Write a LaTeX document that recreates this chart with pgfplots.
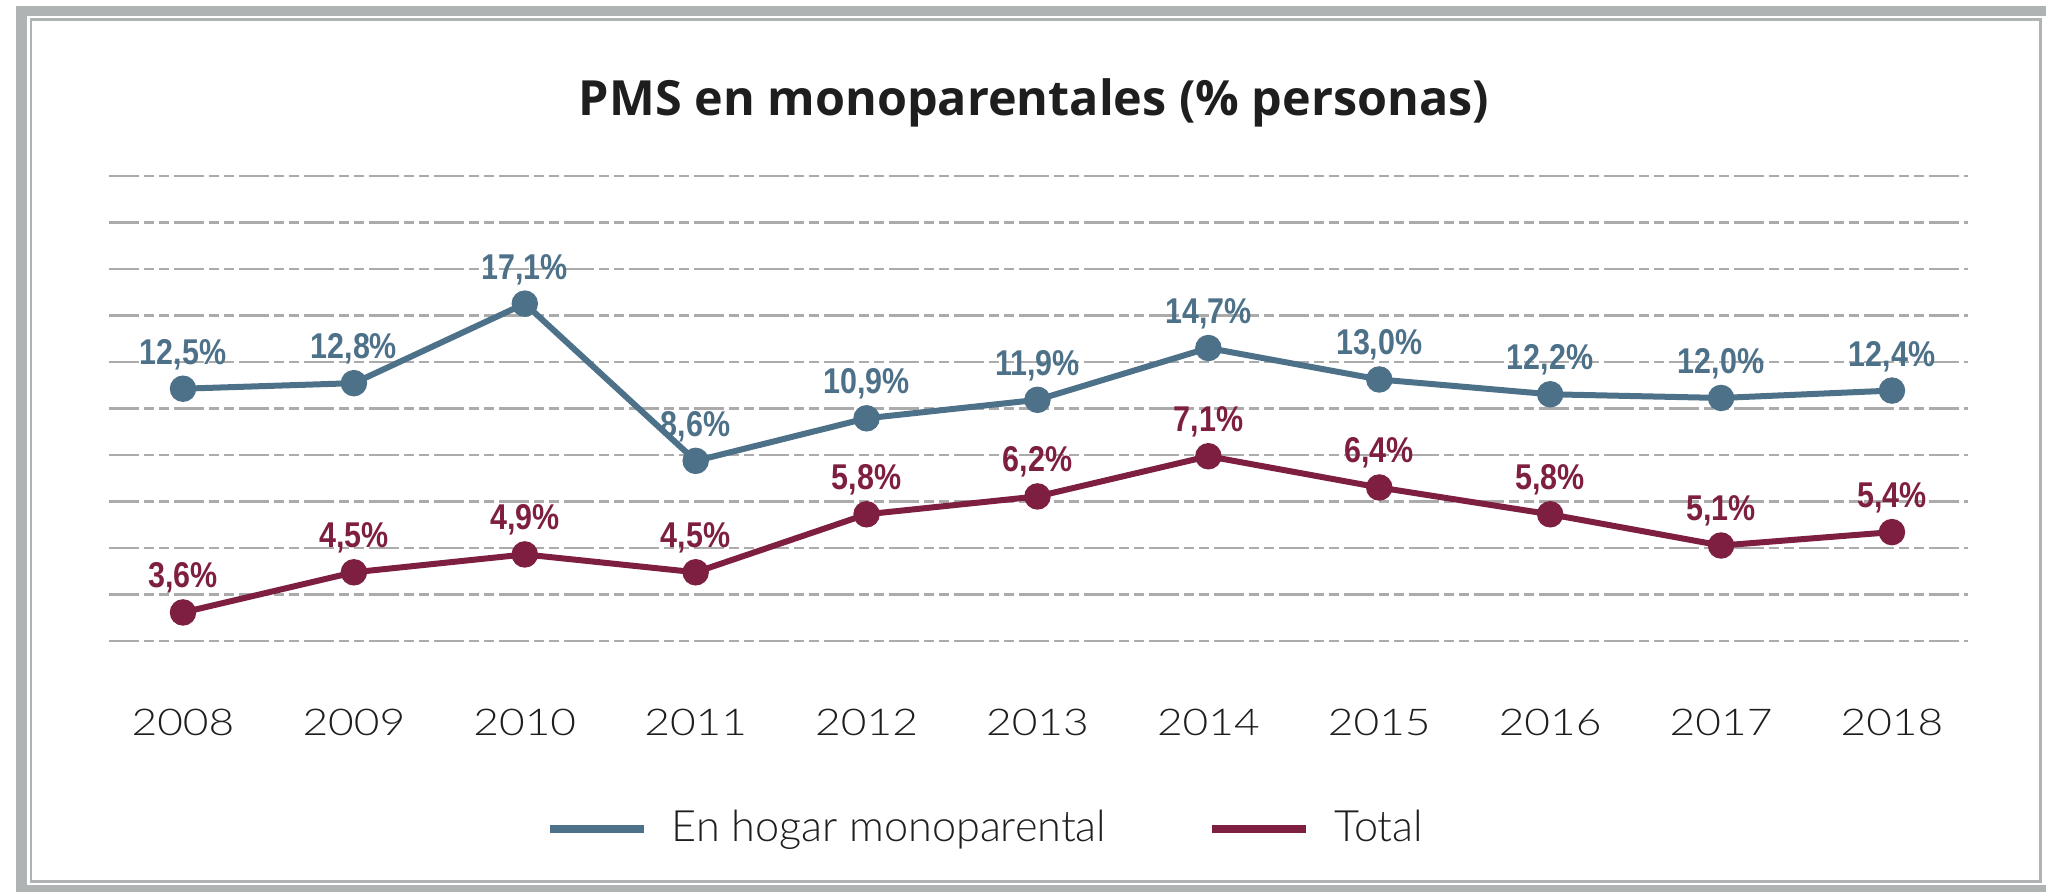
\documentclass[border=0pt]{standalone}
\usepackage{pgfplots}
\pgfplotsset{compat=1.18}
\usepackage{pgfplotstable}
\usepackage{graphicx}
\usepackage{fontspec}
\setmainfont{Open Sans}
\newfontfamily\lightfont{Lato Light}
\newfontfamily\yearfont{Lato Light}[FakeStretch=1.2]
\newfontfamily\labfont{Liberation Sans}[FakeStretch=0.85]
\definecolor{cblue}{HTML}{4D7189}
\definecolor{cred}{HTML}{7E1F41}
\definecolor{cgrid}{HTML}{ABABAB}
\definecolor{cframe}{HTML}{B0B3B3}
\definecolor{ctext}{HTML}{1E1E1E}

\pgfplotstableread{
x y
0 12.5
1 12.8
2 17.1
3 8.6
4 10.9
5 11.9
6 14.7
7 13.0
8 12.2
9 12.0
10 12.4
}\bluedata

\pgfplotstableread{
x y
0 3.6
1 4.5
2 4.9
3 4.5
4 5.8
5 6.2
6 7.1
7 6.4
8 5.8
9 5.1
10 5.4
}\reddata

\pgfplotsset{
  common/.style={
    at={(1.09cm,2.50cm)}, anchor=south west,
    width=18.59cm, height=4.65cm, scale only axis,
    xmin=-0.433, xmax=10.445,
    axis line style={draw=none},
    tick style={draw=none},
    clip=false,
  },
  labels/.style={
    point meta=y,
    nodes near coords={\pgfmathprintnumber[fixed,fixed zerofill,precision=1,use comma,assume math mode=true]{\pgfplotspointmeta}\%},
    every node near coord/.append style={font=\labfont\bfseries\fontsize{10.2pt}{12pt}\selectfont, text=#1, inner sep=0pt, yshift=0.16cm},
  },
}

\begin{document}
\begin{tikzpicture}
\useasboundingbox (0,0) rectangle (20.46,8.91);
\draw[cframe, line width=0.1cm] (0.215,0.01) rectangle (20.6,8.805);
\draw[cframe, line width=0.03cm] (0.31,0.10) rectangle (20.40,8.71);
\node[anchor=base, font=\bfseries\fontsize{13.8pt}{16pt}\selectfont, text=ctext] at (10.34,7.76) {PMS en monoparentales (\% personas)};

\begin{axis}[
  common,
  ymin=-1.14, ymax=24,
  ytick={-1.14,1.374,3.888,6.402,8.916,11.43,13.944,16.458,18.972,21.486,24.0},
  yticklabels={},
  ymajorgrids,
  grid style={cgrid, line width=0.028cm, dash pattern=on 0.30cm off 0.05cm on 0.10cm off 0.05cm on 0.10cm off 0.05cm},
  xtick={0,...,10},
  xticklabels={2008,2009,2010,2011,2012,2013,2014,2015,2016,2017,2018},
  x tick label style={font=\yearfont\fontsize{10.5pt}{12pt}\selectfont, text=ctext, anchor=base, yshift=-0.94cm},
]
\addplot[cblue, line width=0.06cm, mark=*, mark size=2.9pt, labels=cblue] table[x=x,y=y] {\bluedata};
\end{axis}

\begin{axis}[
  common,
  ymin=2.96, ymax=13.38,
  xtick=\empty, ytick=\empty,
  legend columns=2,
  legend cell align=left,
  legend image code/.code={\draw[#1, line width=0.08cm] (0cm,0cm) -- (0.94cm,0cm);},
  legend style={at={(axis description cs:0.2345,-0.404)}, anchor=west, draw=none, fill=none, inner sep=0pt,
    font=\lightfont\fontsize{12.3pt}{14pt}\selectfont, text=ctext,
    /tikz/every odd column/.style={column sep=0.17cm},
    /tikz/every even column/.style={column sep=0.95cm}},
]
\addlegendimage{cblue}
\addlegendentry{En hogar monoparental}
\addplot[cred, line width=0.06cm, mark=*, mark size=2.9pt, labels=cred] table[x=x,y=y] {\reddata};
\addlegendentry{Total}
\end{axis}
\end{tikzpicture}
\end{document}
